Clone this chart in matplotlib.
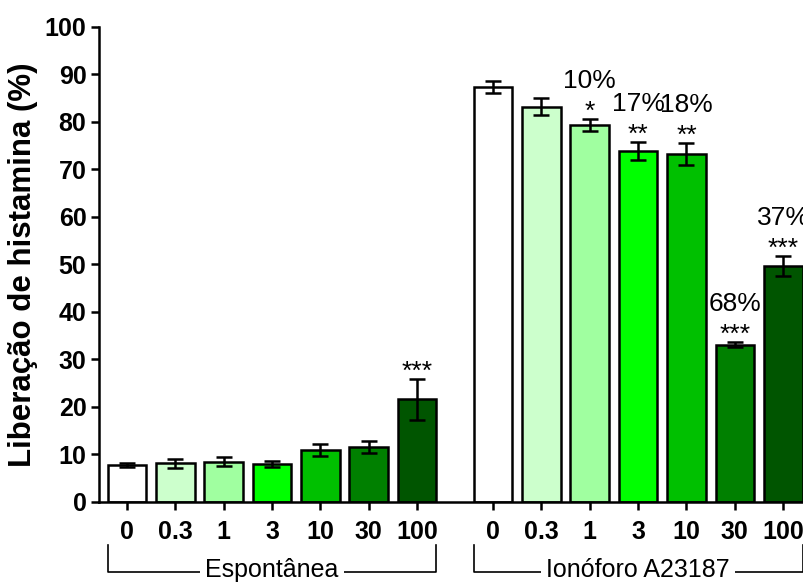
import matplotlib
matplotlib.use('Agg')
import matplotlib.pyplot as plt
import matplotlib.transforms as mtransforms
import numpy as np

plt.rcParams['font.family'] = ['Liberation Sans', 'DejaVu Sans']

doses = ['0', '0.3', '1', '3', '10', '30', '100']
groups = ['Espontânea', 'Ionóforo A23187']
espontanea = [7.8, 8.1, 8.5, 8.0, 10.9, 11.6, 21.6]
espontanea_err = [0.5, 1.0, 1.0, 0.7, 1.2, 1.2, 4.3]
ionoforo = [87.4, 83.2, 79.4, 73.9, 73.3, 33.1, 49.7]
ionoforo_err = [1.2, 1.8, 1.2, 1.8, 2.3, 0.5, 2.1]
stars_esp = ['', '', '', '', '', '', '***']
stars_ion = ['', '', '*', '**', '**', '***', '***']
inhib_ion = ['', '', '10%', '17%', '18%', '68%', '37%']
colors = ['#FFFFFF', '#CCFFCC', '#A0FFA0', '#00FF00', '#00C000', '#008000', '#005500']

x_esp = np.arange(7)
x_ion = np.arange(7) + 7.57
w = 0.8

fig = plt.figure(figsize=(8.04, 5.83), dpi=100)
ax = fig.add_axes([0.1231, 0.139, 0.8769, 0.8147])

for xs, vals, errs in [(x_esp, espontanea, espontanea_err), (x_ion, ionoforo, ionoforo_err)]:
    ax.bar(xs, vals, width=w, color=colors, edgecolor='black', linewidth=1.8, zorder=2)
    ax.errorbar(xs, vals, yerr=errs, fmt='none', ecolor='black', elinewidth=1.8,
                capsize=6, capthick=1.8, zorder=3)

# stars and percent labels
for xs, vals, errs, st in [(x_esp, espontanea, espontanea_err, stars_esp), (x_ion, ionoforo, ionoforo_err, stars_ion)]:
    for xi, v, e, s in zip(xs, vals, errs, st):
        if s:
            ax.text(xi, v + e - 1.0, s, ha='center', va='bottom', fontsize=19, zorder=4)
for xi, v, e, p in zip(x_ion, ionoforo, ionoforo_err, inhib_ion):
    if p:
        ax.text(xi, v + e + 5.5, p, ha='center', va='bottom', fontsize=19, zorder=4)

ax.set_xlim(-0.58, 14.0)
ax.set_ylim(0, 100)
ax.set_yticks(np.arange(0, 101, 10))
ax.set_xticks(np.concatenate([x_esp, x_ion]))
ax.set_xticklabels(doses + doses)
for lab in ax.get_xticklabels() + ax.get_yticklabels():
    lab.set_fontweight('bold')
    lab.set_fontsize(18)
ax.tick_params(axis='both', direction='out', length=6, width=1.8, pad=3)
ax.tick_params(axis='x', pad=7)
ax.spines['top'].set_visible(False)
ax.spines['right'].set_visible(False)
ax.spines['left'].set_linewidth(1.8)
ax.spines['bottom'].set_linewidth(1.8)
ax.set_ylabel('Liberação de histamina (%)', fontsize=22.5, fontweight='bold', labelpad=5)

# group brackets
trans = mtransforms.blended_transform_factory(ax.transData, ax.transAxes)
for xs, name in [(x_esp, groups[0]), (x_ion, groups[1])]:
    x0, x1 = xs[0] - w / 2, xs[-1] + w / 2
    ax.plot([x0, x0, x1, x1], [-0.09, -0.147, -0.147, -0.09], color='black', lw=1.2,
            transform=trans, clip_on=False)
    ax.text((x0 + x1) / 2, -0.143, name, ha='center', va='center', fontsize=18,
            transform=trans, bbox=dict(facecolor='white', edgecolor='none', pad=4))

fig.savefig('out.png', dpi=100)
